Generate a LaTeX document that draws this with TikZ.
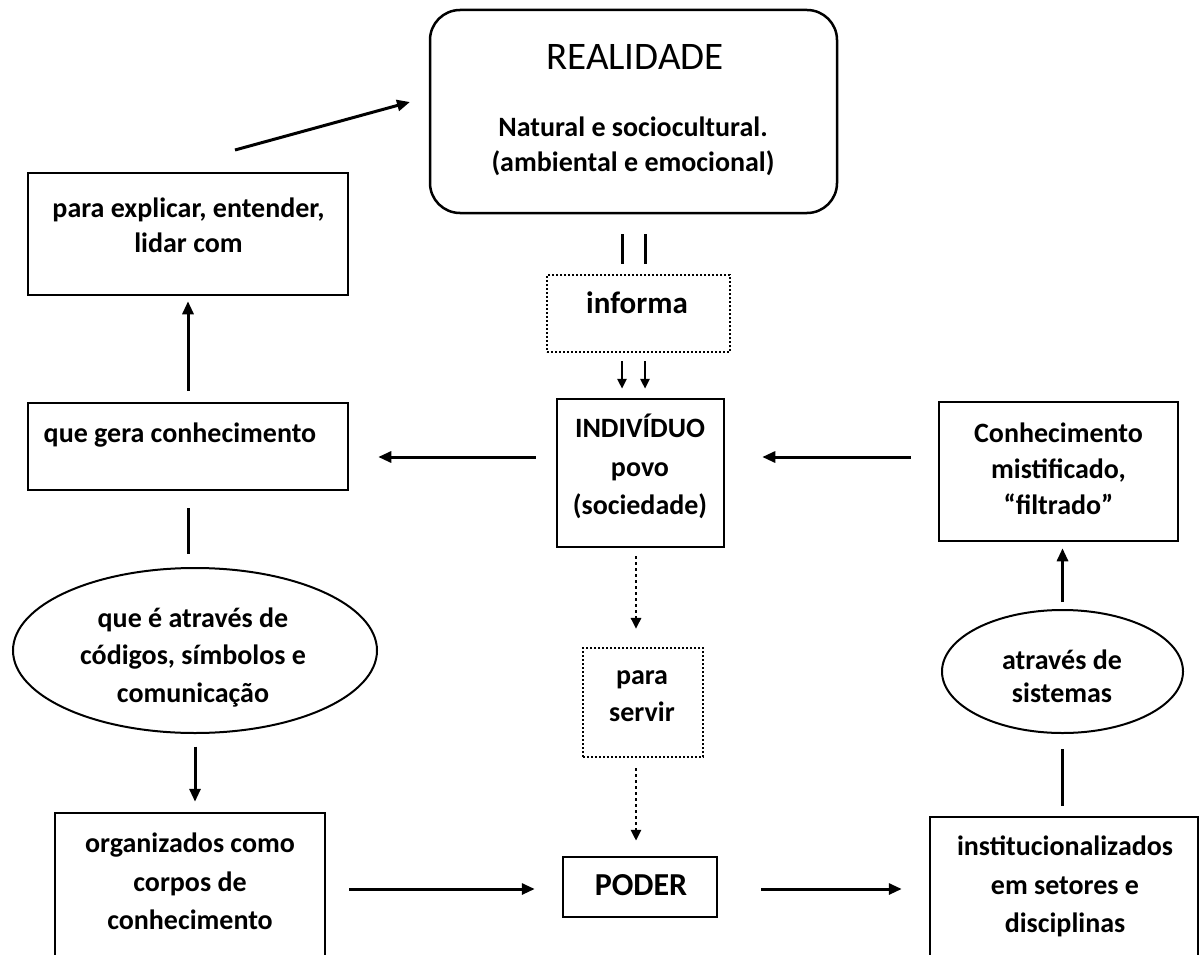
\documentclass[tikz,border=0pt]{standalone}
\usepackage{fontspec}
\setmainfont{Carlito}
\usetikzlibrary{arrows.meta,shapes.geometric}
\begin{document}
\begin{tikzpicture}[x=1pt,y=-1pt,
  box/.style={draw, rectangle, line width=2.5pt, inner sep=0pt},
  dotbox/.style={draw, rectangle, line width=2.2pt, dash pattern=on 2pt off 2pt, inner sep=0pt},
  oval/.style={draw, ellipse, line width=2pt, inner sep=0pt},
  txt/.style={inner sep=0pt, align=center, font=\bfseries\fontsize{28}{#1}\selectfont},
  txt/.default=35,
  arr/.style={line width=3pt, -{Triangle[length=13pt,width=11pt]}},
  sarr/.style={line width=2.6pt, -{Triangle[length=10pt,width=9pt]}},
  darr/.style={line width=2.8pt, dash pattern=on 2.8pt off 3.2pt, -{Triangle[length=11pt,width=10pt]}},
  plain/.style={line width=3pt}
]
\useasboundingbox (0,0) rectangle (1199,955);
\clip (0,0) rectangle (1199,955);

% shapes
\node[box, rounded corners=30pt, minimum width=407pt, minimum height=203pt] (real) at (633.5,111.5) {};
\node[box, minimum width=320pt, minimum height=122pt] (para) at (188,234) {};
\node[box, minimum width=320pt, minimum height=87pt] (queg) at (188,446.5) {};
\node[oval, minimum width=364pt, minimum height=165pt] (e1) at (195,650.5) {};
\node[box, minimum width=270pt, minimum height=200pt] (org) at (190,913) {};
\node[dotbox, minimum width=183pt, minimum height=77pt] (informa) at (638.5,313.5) {};
\node[box, minimum width=167pt, minimum height=148pt] (indiv) at (640.5,473) {};
\node[dotbox, minimum width=120pt, minimum height=109pt] (servir) at (643,702.5) {};
\node[box, minimum width=154pt, minimum height=60pt] (poder) at (640,887) {};
\node[box, minimum width=239pt, minimum height=139pt] (conh) at (1058.5,471.5) {};
\node[oval, minimum width=241pt, minimum height=123pt] (e2) at (1062.5,671.5) {};
\node[box, minimum width=268pt, minimum height=200pt] (inst) at (1064,917) {};

% texts
\node[inner sep=0pt, font=\fontsize{39}{44}\selectfont] (realT) at (635,57) {REALIDADE};
\node[txt=35] (realS) at (633,146.5) {Natural e sociocultural.\\(ambiental e emocional)};
\node[txt=35] (paraT) at (188.5,225.5) {para explicar, entender,\\lidar com};
\node[txt=35] (quegT) at (180,435) {que gera conhecimento};
\node[txt=37.5] (e1T) at (193,657.5) {que é através de\\códigos, símbolos e\\comunicação};
\node[txt=38.5] (orgT) at (190,881.5) {organizados como\\corpos de\\conhecimento};
\node[inner sep=0pt, font=\bfseries\fontsize{31}{36}\selectfont] (infT) at (637,303) {informa};
\node[txt=38.5] (indT) at (640,466.5) {INDIVÍDUO\\povo\\(sociedade)};
\node[txt=37] (servT) at (642,696.5) {para\\servir};
\node[inner sep=0pt, font=\bfseries\fontsize{32}{36}\selectfont] (podT) at (641,885) {PODER};
\node[txt=36] (conhT) at (1058.5,469) {Conhecimento\\mistificado,\\“filtrado”};
\node[txt=33] (e2T) at (1062,676.5) {através de\\sistemas};
\node[txt=38.5] (instT) at (1065,886.5) {institucionalizados\\em setores e\\disciplinas};

% helper coordinates
\coordinate (d1) at (235,150);
\coordinate (d2) at (410,102);
\coordinate (c1) at (622,0);
\coordinate (c2) at (645,0);
\coordinate (cc) at (636,0);
\coordinate (r1) at (0,457);
\coordinate (r2) at (0,889);

% connectors
\draw[arr] (d1) -- (d2);
\draw[plain, shorten <=20pt, shorten >=10pt] (real.south -| c1) -- (informa.north -| c1);
\draw[plain, shorten <=20pt, shorten >=10pt] (real.south -| c2) -- (informa.north -| c2);
\draw[sarr, shorten <=8pt, shorten >=9pt] (informa.south -| c1) -- (indiv.north -| c1);
\draw[sarr, shorten <=8pt, shorten >=9pt] (informa.south -| c2) -- (indiv.north -| c2);
\draw[arr, shorten <=20pt, shorten >=29pt] (indiv.west |- r1) -- (queg.east |- r1);
\draw[arr, shorten <=27pt, shorten >=37pt] (conh.west |- r1) -- (indiv.east |- r1);
\draw[arr, shorten <=11pt, shorten >=5pt] (queg.north) -- (para.south);
\draw[plain, shorten <=17pt, shorten >=13pt] (queg.south) -- (queg.south |- e1.north);
\draw[arr, shorten <=12.5pt, shorten >=10pt] (e1.south) -- (e1.south |- org.north);
\draw[arr, shorten <=23pt, shorten >=27pt] (org.east |- r2) -- (poder.west |- r2);
\draw[arr, shorten <=43pt, shorten >=27pt] (poder.east |- r2) -- (inst.west |- r2);
\draw[plain, shorten <=15pt, shorten >=10pt] (e2.south) -- (e2.south |- inst.north);
\draw[arr, shorten <=7pt, shorten >=6pt] (e2.north) -- (e2.north |- conh.south);
\draw[darr, shorten <=8pt, shorten >=18pt] (indiv.south -| cc) -- (servir.north -| cc);
\draw[darr, shorten <=10pt, shorten >=15pt] (servir.south -| cc) -- (poder.north -| cc);
\end{tikzpicture}
\end{document}
